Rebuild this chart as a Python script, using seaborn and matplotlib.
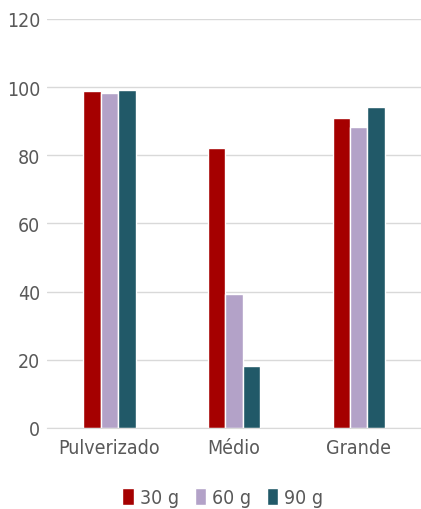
import seaborn as sns
import pandas as pd
import matplotlib.pyplot as plt

categorias = ["Pulverizado", "Médio", "Grande"]
series = ["30 g", "60 g", "90 g"]
v30 = [98.9, 82.2, 91.0]
v60 = [98.3, 39.3, 88.3]
v90 = [99.2, 18.2, 94.2]
cores = ["#A50000", "#B3A2C8", "#215968"]

df = pd.DataFrame({
    "cat": categorias * 3,
    "serie": [s for s in series for _ in categorias],
    "valor": v30 + v60 + v90,
})

sns.set_style("white")
plt.rcParams["font.family"] = ["DejaVu Sans"]
plt.rcParams["font.stretch"] = "condensed"

fig = plt.figure(figsize=(4.21, 5.10), dpi=100)
ax = fig.add_axes([0.112, 0.159, 0.888, 0.802])
sns.barplot(data=df, x="cat", y="valor", hue="serie", palette=cores, saturation=1,
            width=0.42, edgecolor="white", linewidth=1, ax=ax)
ax.set_ylim(0, 120)
ax.set_xlim(-0.5, 2.5)
ax.set_yticks(range(0, 121, 20))
ax.yaxis.grid(True, color="#d9d9d9", linewidth=1)
ax.set_axisbelow(True)
for s in ["left", "right", "top"]:
    ax.spines[s].set_visible(False)
ax.spines["bottom"].set_color("#d9d9d9")
ax.tick_params(length=0, labelsize=14, colors="#595959", pad=7)
ax.tick_params(axis="y", pad=5)
ax.set_xlabel("")
ax.set_ylabel("")
leg = ax.legend(loc="upper center", bbox_to_anchor=(0.47, -0.104), ncol=3, frameon=False,
                fontsize=14, handlelength=0.6, handleheight=1.0, handletextpad=0.3,
                columnspacing=0.8, labelcolor="#595959")
plt.savefig("out.png", dpi=100)
